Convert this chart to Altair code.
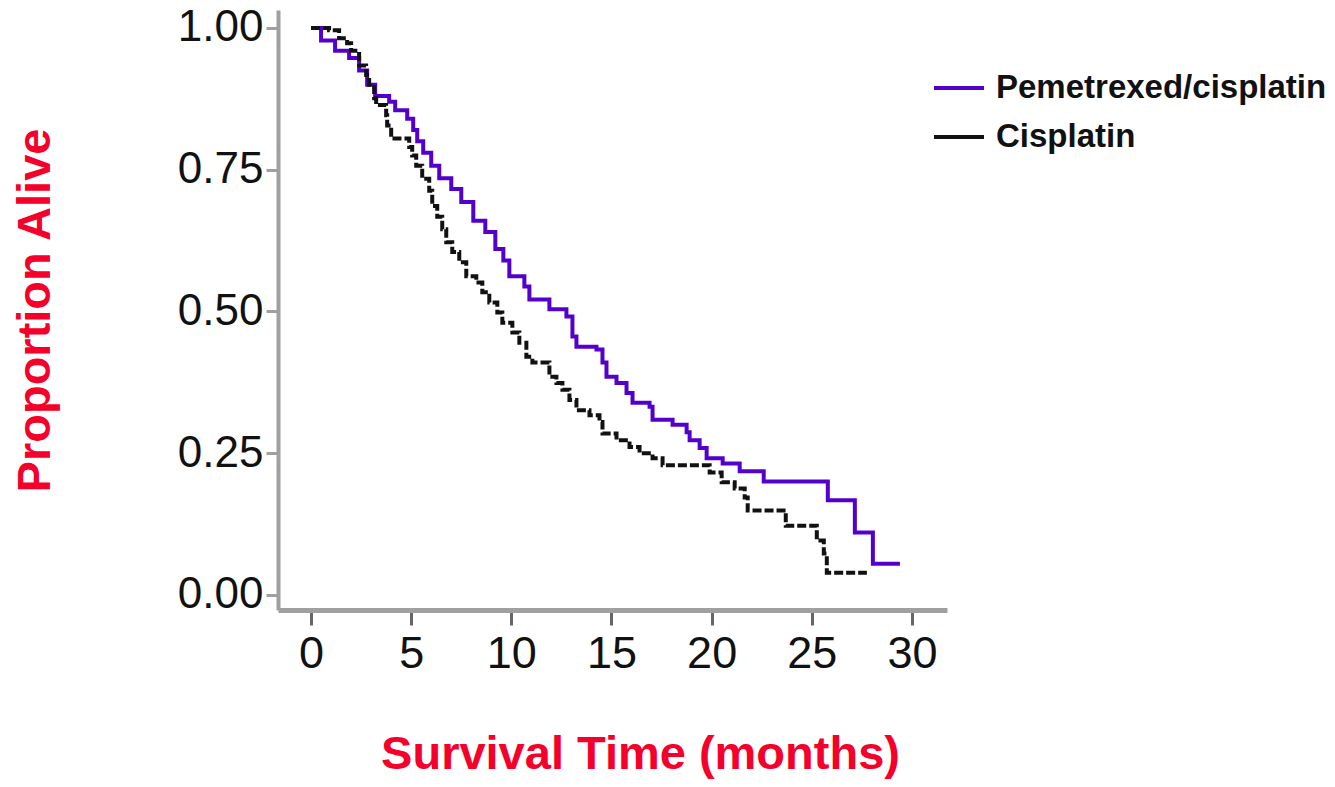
import altair as alt
import pandas as pd

# Kaplan-Meier step points (time in months, proportion alive)
pem_time = [0, 0.5, 1.2, 1.9, 2.4, 2.8, 3.2, 3.9, 4.2, 4.8, 5.1, 5.3, 5.6, 6.0, 6.4, 7.0,
            7.5, 8.1, 8.7, 9.2, 9.6, 9.9, 10.65, 10.9, 11.9, 12.75, 13.05, 13.25, 14.25,
            14.55, 14.75, 15.25, 15.75, 16.05, 16.9, 17.05, 18.05, 18.75, 18.9, 19.4,
            19.75, 20.55, 21.4, 22.6, 25.8, 27.15, 28.05, 29.4]
pem_surv = [1.00, 0.978, 0.96, 0.947, 0.925, 0.90, 0.88, 0.87, 0.855, 0.84, 0.82, 0.80,
            0.78, 0.757, 0.735, 0.716, 0.693, 0.66, 0.64, 0.61, 0.59, 0.562, 0.544, 0.521,
            0.504, 0.491, 0.456, 0.438, 0.433, 0.41, 0.385, 0.374, 0.356, 0.339, 0.332,
            0.309, 0.30, 0.287, 0.273, 0.259, 0.241, 0.232, 0.218, 0.20, 0.167, 0.11,
            0.055, 0.055]

cis_time = [0, 0.9, 1.4, 1.8, 2.0, 2.4, 2.75, 2.9, 3.15, 3.25, 3.75, 3.8, 4.0, 4.9, 5.05,
            5.25, 5.55, 5.9, 6.05, 6.3, 6.55, 6.75, 7.05, 7.4, 7.75, 8.25, 8.55, 8.9, 9.3,
            9.55, 10.05, 10.4, 10.75, 11.05, 11.9, 12.25, 12.55, 12.9, 13.25, 13.9, 14.4,
            14.55, 15.25, 15.9, 16.4, 17.05, 17.55, 19.9, 20.5, 21.15, 21.65, 21.8, 23.7,
            25.25, 25.6, 25.75, 27.75]
cis_surv = [1.00, 0.996, 0.982, 0.973, 0.96, 0.934, 0.917, 0.90, 0.876, 0.864, 0.846, 0.828,
            0.805, 0.79, 0.775, 0.757, 0.734, 0.713, 0.686, 0.667, 0.645, 0.622, 0.605,
            0.587, 0.562, 0.551, 0.534, 0.516, 0.498, 0.48, 0.463, 0.445, 0.42, 0.41,
            0.385, 0.374, 0.362, 0.344, 0.326, 0.317, 0.305, 0.285, 0.273, 0.261, 0.25,
            0.241, 0.229, 0.216, 0.199, 0.188, 0.172, 0.149, 0.122, 0.096, 0.073, 0.039,
            0.039]

series_names = ["Pemetrexed/cisplatin", "Cisplatin"]
series_colors = ["#5400cc", "#111111"]
line_styles = ["solid", "dashed"]
x_ticks = [0, 5, 10, 15, 20, 25, 30]
y_ticks = [0.0, 0.25, 0.5, 0.75, 1.0]

df = pd.concat([
    pd.DataFrame({"time": pem_time, "surv": pem_surv, "arm": series_names[0],
                  "style": line_styles[0], "k": 1}),
    pd.DataFrame({"time": cis_time, "surv": cis_surv, "arm": series_names[1],
                  "style": line_styles[1], "k": 0}),
])

FONT = "Liberation Sans"
RED = "#f5002a"

chart = alt.Chart(df).mark_line(interpolate="step-after", strokeWidth=4).encode(
    x=alt.X("time:Q",
            scale=alt.Scale(domain=[-1.65, 31.75], nice=False, zero=False),
            axis=alt.Axis(values=x_ticks, title="Survival Time (months)", grid=False,
                          labelFontSize=45, labelFont=FONT, labelColor="#111",
                          labelPadding=6, tickSize=15, tickWidth=3, tickColor="#666",
                          domainColor="#a0a0a0", domainWidth=5,
                          titleFontSize=47, titleFont=FONT, titleFontWeight="bold",
                          titleColor=RED, titleX=362, titleY=158,
                          titleBaseline="alphabetic", titleAlign="center")),
    y=alt.Y("surv:Q",
            scale=alt.Scale(domain=[-0.0265, 1.0317], nice=False, zero=False),
            axis=alt.Axis(values=y_ticks, format=".2f", title="Proportion Alive", grid=False,
                          labelFontSize=44, labelFont=FONT, labelColor="#111",
                          labelPadding=3, tickSize=12, tickWidth=3, tickColor="#a0a0a0",
                          domainColor="#a0a0a0", domainWidth=4,
                          titleFontSize=47, titleFont=FONT, titleFontWeight="bold",
                          titleColor=RED, titleX=-229, titleY=300,
                          titleBaseline="alphabetic", titleAlign="center", titleAngle=270)),
    color=alt.Color("arm:N",
                    scale=alt.Scale(domain=series_names, range=series_colors),
                    legend=alt.Legend(title=None, orient="none", legendX=654, legendY=51,
                                      symbolType="stroke", symbolSize=2500,
                                      symbolStrokeWidth=4, labelFontSize=33,
                                      labelFont=FONT, labelFontWeight="bold",
                                      labelColor="#111", labelOffset=10,
                                      rowPadding=5, padding=0, labelLimit=500)),
    strokeDash=alt.StrokeDash("style:N",
                              scale=alt.Scale(domain=line_styles, range=[[1, 0], [9, 3]]),
                              legend=None),
    order=alt.Order("k:Q"),
).properties(
    width=669,
    height=600,
    background="white",
    autosize=alt.AutoSizeParams(type="none"),
    padding={"left": 270, "top": 2, "right": 380, "bottom": 169},
).configure_view(stroke=None)

chart.save("out.html", embed_options={"renderer": "svg", "actions": False})
